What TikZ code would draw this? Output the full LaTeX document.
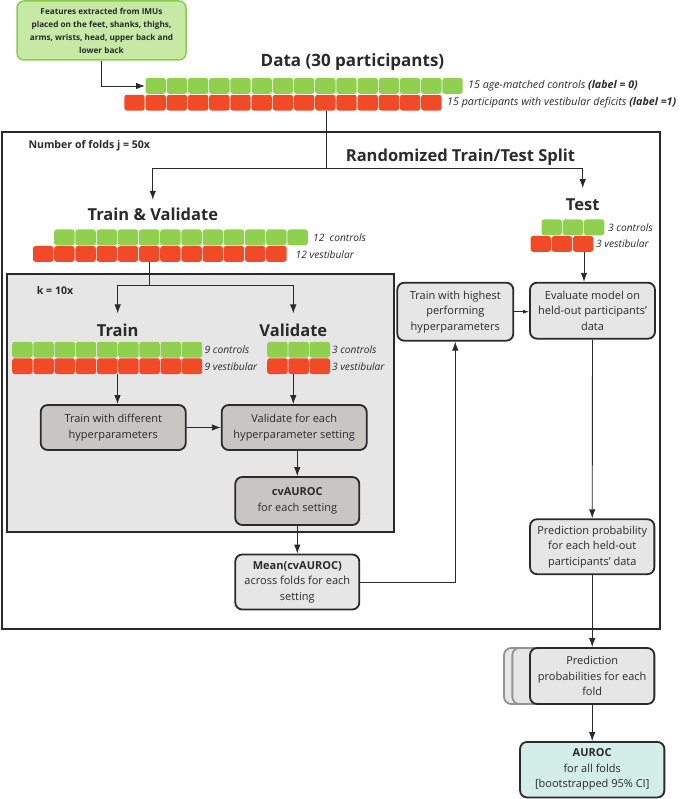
\documentclass[tikz,border=0pt]{standalone}
\usepackage{fontspec}
\setmainfont{Open Sans}
\usetikzlibrary{arrows.meta}
\definecolor{cellgreen}{HTML}{8FD14F}
\definecolor{cellred}{HTML}{F04A26}
\definecolor{featfill}{HTML}{C6E9A6}
\definecolor{featline}{HTML}{8CCB50}
\definecolor{panelgray}{HTML}{E6E6E6}
\definecolor{darkfill}{HTML}{C9C5C2}
\definecolor{tealfill}{HTML}{D3EEE8}
\definecolor{ink}{HTML}{2A2A2A}
\tikzset{
  box/.style={draw=ink, line width=1.8pt, rounded corners=7pt, align=center, text=ink, inner sep=0pt, font=\fontsize{11}{15.5}\selectfont},
  lightbox/.style={box, fill=panelgray},
  darkbox/.style={box, fill=darkfill},
  title/.style={inner sep=0pt, text=ink, font=\fontsize{16.5}{19}\selectfont\bfseries},
  lbl/.style={anchor=west, inner sep=1pt, text=ink, font=\fontsize{10.2}{12}\selectfont\itshape},
  note/.style={anchor=west, inner sep=0pt, text=ink, font=\fontsize{10.6}{12}\selectfont\bfseries},
  arr/.style={draw=ink, line width=0.9pt, -{Latex[length=9pt,width=6.5pt]}},
  tarr/.style={arr, shorten >=10pt}
}
\begin{document}
\begin{tikzpicture}[x=1pt,y=-1pt]
  \useasboundingbox (0,0) rectangle (685,799);

  \draw[ink, line width=2pt] (2,132) rectangle (660,629.3);
  \draw[ink, line width=2pt, fill=panelgray] (6.5,274.3) rectangle (394.3,531.7);

  \foreach \x/\y/\n/\c in {145/78/15/cellgreen, 123.8/94.8/15/cellred,
      53.7/229.5/12/cellgreen, 32.5/246/12/cellred,
      541/219.5/3/cellgreen, 530/236/3/cellred,
      11.7/341.8/9/cellgreen, 11.7/358.3/9/cellred,
      266.7/341.8/3/cellgreen, 266.7/358.3/3/cellred} {
    \foreach \i in {1,...,\n} {
      \fill[\c, rounded corners=2.5pt] ({\x+(\i-1)*21.2+0.5},\y) rectangle ++(20.4,15.8);
    }
  }

  \node[box, draw=featline, line width=1.5pt, fill=featfill, minimum width=169pt, minimum height=59pt,
        font=\fontsize{8.2}{13}\selectfont\bfseries] (feat) at (101.5,30.5)
        {Features extracted from IMUs\\placed on the feet, shanks, thighs,\\arms, wrists, head, upper back and\\lower back};

  \node[title, font=\fontsize{17}{20}\selectfont\bfseries] (datatitle) at (352.5,61.7) {Data (30 participants)};
  \node[lbl, font=\fontsize{10.7}{12}\selectfont\itshape] (datagl) at (467,85.7) {15 age-matched controls \textbf{(label = 0)}};
  \node[lbl, font=\fontsize{10.7}{12}\selectfont\itshape] (datarl) at (446,102.7) {15 participants with vestibular deficits \textbf{(label =1)}};
  \coordinate (dataG) at (145,86);
  \coordinate (dataR) at (326.5,110.6);

  \node[note] (folds) at (28.3,145.7) {Number of folds j = 50x};
  \node[title] (splittitle) at (460.5,157.3) {Randomized Train/Test Split};
  \coordinate (split) at (326.5,168.3);

  \node[title] (tvtitle) at (152.8,214.3) {Train \& Validate};
  \node[lbl] (tvgl) at (312,237.7) {12\ \ controls};
  \node[lbl] (tvrl) at (294.5,254.3) {12 vestibular};
  \coordinate (tvR) at (149,262.2);
  \coordinate (ksplit) at (149,285.7);

  \node[title] (testtitle) at (582.7,204.3) {Test};
  \node[lbl] (testgl) at (607,227.5) {3 controls};
  \node[lbl] (testrl) at (595,244) {3 vestibular};
  \coordinate (testR) at (584,252);

  \node[note] (kfolds) at (36.7,290.7) {k = 10x};
  \node[title] (trtitle) at (117.7,330) {Train};
  \node[title] (valtitle) at (293.3,330) {Validate};
  \node[lbl] (trgl) at (203.5,349.8) {9 controls};
  \node[lbl] (trrl) at (203.5,366.3) {9 vestibular};
  \node[lbl] (valgl) at (330.8,349.8) {3 controls};
  \node[lbl] (valrl) at (330.8,366.3) {3 vestibular};
  \coordinate (trR) at (117.5,374);
  \coordinate (valR) at (293.3,374);

  \node[darkbox, minimum width=145pt, minimum height=45pt] (trbox) at (113.2,427.5) {Train with different\\hyperparameters};
  \node[darkbox, minimum width=145pt, minimum height=45pt] (valbox) at (294.2,427.5) {Validate for each\\hyperparameter setting};
  \node[darkbox, minimum width=124pt, minimum height=48pt] (cvbox) at (297.3,501) {\textbf{cvAUROC}\\for each setting};
  \node[lightbox, minimum width=124pt, minimum height=55pt] (meanbox) at (297.3,582) {\textbf{Mean(cvAUROC)}\\across folds for each\\setting};

  \node[lightbox, minimum width=116pt, minimum height=58pt] (hpbox) at (455.3,311.7) {Train with highest\\performing\\hyperparameters};
  \node[lightbox, minimum width=125pt, minimum height=56pt] (evbox) at (592.5,310.7) {Evaluate model on\\held-out participants'\\data};
  \node[lightbox, minimum width=124.3pt, minimum height=55pt] (ppbox) at (592.2,546.7) {Prediction probability\\for each held-out\\participants' data};

  \node[lightbox, draw=gray!85, minimum width=124.3pt, minimum height=56pt] (foldback2) at (566.2,676) {};
  \node[lightbox, draw=gray!85, minimum width=124.3pt, minimum height=56pt] (foldback1) at (574.5,676) {};
  \node[lightbox, minimum width=124.3pt, minimum height=56pt] (foldbox) at (592.2,676) {Prediction\\probabilities for each\\fold};
  \node[box, fill=tealfill, minimum width=144.3pt, minimum height=55.5pt] (aurocbox) at (592.2,769.7) {\textbf{AUROC}\\for all folds\\{[}bootstrapped 95\% CI{]}};

  \draw[arr] (feat.south) |- (dataG);
  \draw[ink, line width=0.9pt] (dataR) -- (split);
  \draw[tarr, shorten >=8pt] (split) -| (tvtitle.north);
  \draw[tarr] (split) -| (testtitle.north);
  \draw[ink, line width=0.9pt] (tvR) -- (ksplit);
  \draw[tarr] (ksplit) -| (trtitle.north);
  \draw[tarr] (ksplit) -| (valtitle.north);
  \draw[arr] (trR) -- (trR |- trbox.north);
  \draw[arr] (valR) -- (valR |- valbox.north);
  \draw[arr] (trbox.east) -- (valbox.west);
  \draw[arr] (cvbox.north |- valbox.south) -- (cvbox.north);
  \draw[arr] (cvbox.south) -- (meanbox.north);
  \draw[arr] (meanbox.east) -| (hpbox.south);
  \draw[draw=ink, line width=0.9pt, -{Latex[length=6pt,width=4pt]}] (hpbox.east) -- (hpbox.east -| evbox.west);
  \draw[arr] (testR) -- (testR |- evbox.north);
  \draw[arr] (evbox.south) -- (ppbox.north);
  \draw[arr] (ppbox.south) -- (foldbox.north);
  \draw[arr] (foldbox.south) -- (aurocbox.north);
\end{tikzpicture}
\end{document}
